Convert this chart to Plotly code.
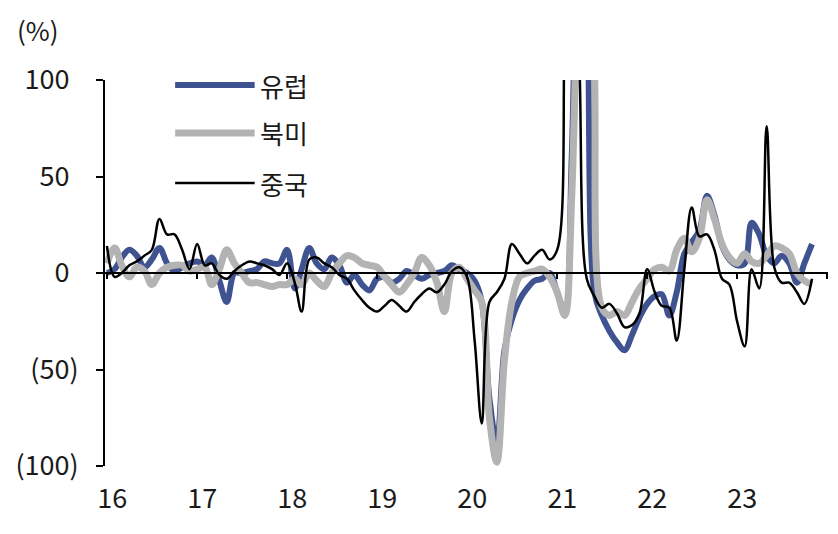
import pandas as pd
import plotly.graph_objects as go

# monthly, 2016-01 .. 2023-11
months = pd.date_range("2016-01-01", periods=95, freq="MS")

europe = [0, 2, 8, 12, 9, 3, 7, 13, 5, 1, 3, 5,
          6, 4, 8, -4, -15, 0, 0, 1, 2, 6, 5, 5,
          12, -8, 2, 13, 5, 2, 8, 4, -5, -1, -6, -9,
          -3, -2, -5, -3, 1, -1, -3, -1, 0, 1, 4, 2,
          0, -4, -15, -65, -88, -40, -24, -14, -8, -4, -3, 0,
          -10, -20, 60, 200, 150, -10, -22, -30, -36, -40, -32, -23,
          -16, -12, -11, -22, -10, 10, 16, 22, 40, 30, 14, 7,
          4, 5, 26, 20, 9, 5, 9, 5, -5, 5, 15]

north_america = [5, 13, 4, -2, 3, 1, -6, 0, 3, 4, 4, 1,
                 2, 3, -6, 2, 12, 5, 0, -5, -5, -6, -7, -6,
                 -6, -3, -6, 0, -4, -7, 0, 5, 9, 8, 5, 4,
                 3, -2, -6, -10, -6, 0, 8, 4, -5, -20, 0, 3,
                 -3, -9, -15, -75, -98, -45, -15, -2, 0, 1, 2, -2,
                 -10, -22, 40, 180, 260, 110, -18, -22, -20, -22, -15, -8,
                 -3, 2, 3, 1, 12, 18, 11, 18, 38, 28, 15, 8,
                 5, 10, 6, 5, 9, 14, 13, 10, 0, -4, -6]

china = [14, -2, 0, 4, 6, 9, 12, 28, 20, 20, 12, 2,
         15, 4, 5, -1, -3, 1, 4, 6, 5, 4, 2, -1,
         5, -5, -20, 7, 8, 5, 3, -1, -3, -9, -14, -18,
         -20, -17, -14, -17, -20, -15, -11, -8, -10, -6, 1, 3,
         -2, -35, -78, -15, -10, -3, 15, 10, 5, 9, 12, 7,
         12, 130, 220, 110, -3, -12, -18, -16, -21, -28, -27, -21,
         2, -10, -17, -18, -35, 2, 34, 19, 20, 12, -3, -6,
         -25, -38, 2, -8, 76, 3, -5, -5, -10, -16, -3]

y_ticks = [100, 50, 0, -50, -100]
y_labels = ["100", "50", "0", "(50)", "(100)"]

BLUE = "#3f5391"
GRAY = "#b3b3b3"
FONT = "Noto Sans CJK KR"
x_range = ["2015-12-24", "2024-01-05"]

# positive labels get an invisible ")" so digits line up like the Excel "_)" format
pad = "<span style='color:rgba(0,0,0,0)'>)</span>"
y_text = [t if t.startswith("(") else t + pad for t in y_labels]

fig = go.Figure()
fig.add_trace(go.Scatter(x=months, y=europe, mode="lines", name="유럽",
                         line=dict(color=BLUE, width=6, shape="spline")))
fig.add_trace(go.Scatter(x=months, y=north_america, mode="lines", name="북미",
                         line=dict(color=GRAY, width=7, shape="spline")))
fig.add_trace(go.Scatter(x=months, y=china, mode="lines", name="중국", xaxis="x2",
                         line=dict(color="black", width=2.5, shape="spline")))

# hand-made legend (long line samples like the original)
legend_items = [("유럽", BLUE, 6, 0.987), ("북미", GRAY, 7, 0.863), ("중국", "black", 2.5, 0.733)]
for label, color, w, yp in legend_items:
    fig.add_shape(type="line", xref="paper", yref="paper", x0=0.097, x1=0.207, y0=yp, y1=yp,
                  line=dict(color=color, width=w))
    fig.add_annotation(text=label, xref="paper", yref="paper", x=0.212, y=yp,
                       xanchor="left", yanchor="middle", showarrow=False,
                       font=dict(size=26, color="#1a1a1a", family=FONT))

fig.add_annotation(text="(%)", xref="paper", yref="paper", x=-0.093, y=1.13,
                   xanchor="center", yanchor="middle", showarrow=False,
                   font=dict(size=26, color="#1a1a1a", family=FONT))

fig.update_layout(
    width=838, height=534,
    margin=dict(l=97, r=18, t=72, b=76),
    paper_bgcolor="white", plot_bgcolor="white",
    showlegend=False,
    font=dict(family=FONT, size=27, color="#1a1a1a"),
    xaxis=dict(range=x_range, type="date", tick0="2016-01-22", dtick="M12", tickformat="%y",
               showgrid=False, showline=False, zeroline=False, automargin=False,
               ticks="outside", ticklen=9, tickcolor="rgba(0,0,0,0)"),
    xaxis2=dict(range=x_range, type="date", overlaying="x", anchor="free", position=0.5,
                side="bottom", tick0="2016-01-01", dtick="M12", showticklabels=False,
                showgrid=False, zeroline=False, showline=True, linecolor="black", linewidth=2,
                automargin=False, ticks="outside", ticklen=5, tickwidth=1.5, tickcolor="black"),
    yaxis=dict(range=[-100, 100], tickvals=y_ticks, ticktext=y_text, automargin=False,
               showgrid=False, zeroline=False, showline=True, linecolor="black", linewidth=2,
               ticks="outside", ticklen=7, tickwidth=2, tickcolor="black", ticklabelstandoff=12),
)

fig.write_html("out.html")
